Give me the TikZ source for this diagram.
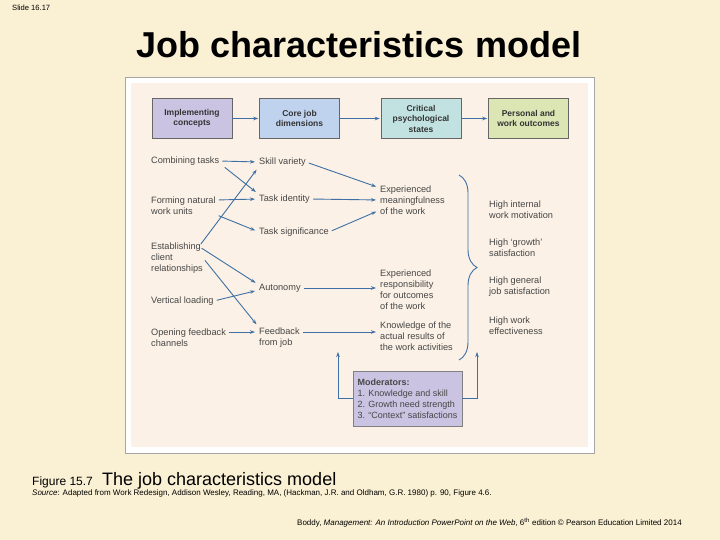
\documentclass[tikz,border=0pt]{standalone}
\usepackage{fontspec}
\setmainfont{Liberation Sans}
\usepackage{tikz}
\usetikzlibrary{arrows.meta, decorations.pathreplacing}

\definecolor{slidebg}{RGB}{250,240,212}
\definecolor{panel}{RGB}{251,241,230}
\definecolor{lav}{RGB}{202,195,226}
\definecolor{coreblue}{RGB}{192,211,238}
\definecolor{critteal}{RGB}{194,226,226}
\definecolor{outgreen}{RGB}{219,230,180}
\definecolor{arrowblue}{RGB}{62,112,165}
\definecolor{figtext}{RGB}{70,70,70}

\begin{document}
\begin{tikzpicture}[x=1pt, y=-1pt, >={Stealth[length=5pt,width=3.5pt]},
  hdr/.style={draw=black!60, line width=0.5pt, minimum width=80pt, minimum height=40pt, align=center, inner sep=1pt, font=\fontsize{8.5}{10.5}\selectfont\bfseries, text=black!80},
  lbl/.style={anchor=west, align=left, inner sep=0pt, font=\fontsize{9.2}{11}\selectfont, text=figtext},
  link/.style={arrowblue, line width=0.9pt, ->, shorten <=3pt, shorten >=4pt},
  modlink/.style={arrowblue, line width=0.9pt, ->}]
\fill[slidebg] (0,0) rectangle (720,540);
\draw[black!35, fill=white] (125,77) rectangle (594,453);
\fill[panel] (131,83) rectangle (588,447);

% slide texts
\node[anchor=base west, inner sep=0pt, font=\fontsize{7.6}{8}\selectfont] (slide) at (12,11) {Slide 16.17};
\node[anchor=base, inner sep=0pt, font=\fontsize{36}{40}\selectfont\bfseries] (title) at (359,58) {Job characteristics model};

% header boxes
\node[hdr, fill=lav] (impl) at (192,118.5) {Implementing\\concepts};
\node[hdr, fill=coreblue] (core) at (299.5,118.5) {Core job\\dimensions};
\node[hdr, fill=critteal] (crit) at (421,118.5) {Critical\\psychological\\states};
\node[hdr, fill=outgreen] (pers) at (528.5,118.5) {Personal and\\work outcomes};
\draw[link, shorten <=0pt, shorten >=1pt] (impl) -- (core);
\draw[link, shorten <=0pt, shorten >=1pt] (core) -- (crit);
\draw[link, shorten <=0pt, shorten >=1pt] (crit) -- (pers);

% implementing concepts
\node[lbl] (cmb) at (151,161) {Combining tasks};
\node[lbl] (frm) at (151,205.5) {Forming natural\\work units};
\node[lbl] (est) at (151,258) {Establishing\\client\\relationships};
\node[lbl] (vrt) at (151,301) {Vertical loading};
\node[lbl] (opn) at (151,337.5) {Opening feedback\\channels};

% core job dimensions
\node[lbl] (skl) at (259,162) {Skill variety};
\node[lbl] (tid) at (259,199) {Task identity};
\node[lbl] (tsg) at (259,232) {Task significance};
\node[lbl] (aut) at (259,288) {Autonomy};
\node[lbl] (fbk) at (259,337.5) {Feedback\\from job};

% critical psychological states
\node[lbl] (mng) at (380,200) {Experienced\\meaningfulness\\of the work};
\node[lbl] (rsp) at (380,289.5) {Experienced\\responsibility\\for outcomes\\of the work};
\node[lbl] (knw) at (380,336) {Knowledge of the\\actual results of\\the work activities};

% outcomes
\node[lbl] (mot) at (489,209.5) {High internal\\work motivation};
\node[lbl] (gro) at (489,247.5) {High `growth'\\satisfaction};
\node[lbl] (sat) at (489,286.5) {High general\\job satisfaction};
\node[lbl] (eff) at (489,325.5) {High work\\effectiveness};

% concepts to dimensions
\draw[link] (cmb.east) -- (skl.west);
\draw[link] ([xshift=3pt]cmb.south east) -- (tid.north west);
\draw[link] ([yshift=5.5pt]frm.east) -- (tid.west);
\draw[link] (frm.south east) -- (tsg.west);
\draw[link] ([xshift=-4pt,yshift=-4pt]est.north east) -- (skl.south west);
\draw[link] ([xshift=-4pt,yshift=-4pt]est.north east) -- ([yshift=3pt]aut.west);
\draw[link] (est.east) -- (fbk.north west);
\draw[link] (vrt.east) -- ([yshift=-2pt]aut.west);
\draw[link] ([yshift=5.5pt]opn.east) -- ([yshift=5.5pt]fbk.west);

% dimensions to states
\draw[link] (skl.east) -- ([yshift=12pt]mng.west);
\draw[link] (tid.east) -- (mng.west);
\draw[link] (tsg.east) -- ([yshift=-10pt]mng.west);
\draw[link] (aut.east) -- (aut.east -| rsp.west);
\draw[link] ([yshift=5.5pt]fbk.east) -- ([yshift=5.5pt]fbk.east -| knw.west);

% states to outcomes
\draw[arrowblue, line width=0.9pt, decorate, decoration={brace, amplitude=18pt, aspect=0.5}] (459,175) -- (459,360);

% moderators
\node[draw=black!50, fill=lav, align=left, minimum width=109pt, minimum height=55pt, inner sep=3pt, font=\fontsize{9}{11}\selectfont, text=figtext] (mod) at (407.5,398.5) {\textbf{Moderators:}\\1. Knowledge and skill\\2. Growth need strength\\3. ``Context'' satisfactions};
\coordinate (modL) at (338,352);
\coordinate (modR) at (477,352);
\draw[modlink] (mod.west) -| (modL);
\draw[modlink] (mod.east) -| (modR);

% caption
\node[anchor=base west, inner sep=0pt, font=\fontsize{12}{14}\selectfont] (fig) at (32,485) {Figure 15.7};
\node[anchor=base west, inner sep=0pt, font=\fontsize{18}{20}\selectfont] (figtitle) at (102,485) {The job characteristics model};
\node[anchor=base west, inner sep=0pt, font=\fontsize{8}{9}\selectfont] (source) at (32,495) {\textit{Source}: Adapted from Work Redesign, Addison Wesley, Reading, MA, (Hackman, J.R. and Oldham, G.R. 1980) p. 90, Figure 4.6.};
\node[anchor=base west, inner sep=0pt, font=\fontsize{8}{9}\selectfont] (credit) at (297,525) {Boddy, \textit{Management: An Introduction PowerPoint on the Web}, 6\textsuperscript{th} edition © Pearson Education Limited 2014};
\end{tikzpicture}
\end{document}
